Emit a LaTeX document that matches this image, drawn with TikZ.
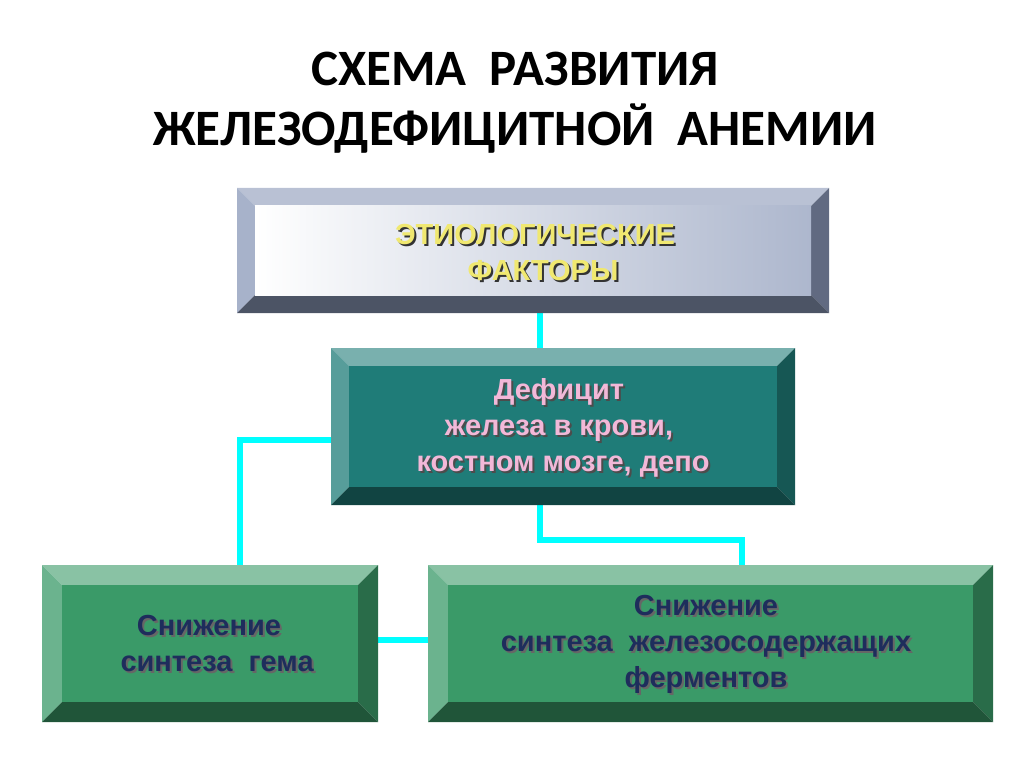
\documentclass[tikz,border=0pt]{standalone}
\usepackage{fontspec}
\setmainfont{Liberation Sans}
\newfontfamily\titlefont{Carlito}
\definecolor{teal1}{HTML}{1F7C78}
\definecolor{green1}{HTML}{3A9A68}
\definecolor{cyanl}{HTML}{00FFFF}
\definecolor{navy}{HTML}{1E2D5C}
\definecolor{pinkt}{HTML}{F2B8D8}
\definecolor{yel}{HTML}{F0E870}
\definecolor{topb}{HTML}{8A98B8}
\newcommand\bevbox[7]{%
 \fill[#6!60!white] (#2,#3) -- (#4,#3) -- ({#4-#7},{#3+#7}) -- ({#2+#7},{#3+#7}) -- cycle;
 \fill[#6!75!white] (#2,#3) -- ({#2+#7},{#3+#7}) -- ({#2+#7},{#5-#7}) -- (#2,#5) -- cycle;
 \fill[#6!70!black] (#4,#3) -- (#4,#5) -- ({#4-#7},{#5-#7}) -- ({#4-#7},{#3+#7}) -- cycle;
 \fill[#6!55!black] (#2,#5) -- (#4,#5) -- ({#4-#7},{#5-#7}) -- ({#2+#7},{#5-#7}) -- cycle;
 \coordinate (#1-nw) at (#2,#3); \coordinate (#1-se) at (#4,#5);
}
\tikzset{conn/.style={cyanl,line width=6pt},
 btxt/.style={font=\bfseries\fontsize{29}{36}\selectfont,align=center}}
\begin{document}
\begin{tikzpicture}[x=1pt,y=-1pt]
\useasboundingbox (0,0) rectangle (1024,767);
\node[font=\titlefont\bfseries\fontsize{51}{60}\selectfont,align=center] (title) at (515,103) {СХЕМА\ \ РАЗВИТИЯ\\ЖЕЛЕЗОДЕФИЦИТНОЙ\ \ АНЕМИИ};
% connectors
\coordinate (c1) at (240,440);
\coordinate (c2) at (540,540);
\coordinate (c3) at (742,540);
\draw[conn] (540,313) -- (540,348);
\draw[conn] (331,440) -- (c1) -- (240,566);
\draw[conn] (540,505) -- (c2) -- (c3) -- (742,566);
\draw[conn] (378,640) -- (428,640);
% top
\bevbox{top}{237}{188}{829}{313}{topb}{18}
\shade[left color=white,right color=topb!70!white] (255,206) rectangle (811,295);
\node[btxt,text=black!80] (ts) at (537,255) {ЭТИОЛОГИЧЕСКИЕ\\\ \ ФАКТОРЫ};
\node[btxt,text=yel] (t) at (535,253) {ЭТИОЛОГИЧЕСКИЕ\\\ \ ФАКТОРЫ};
% middle
\bevbox{mid}{331}{348}{795}{505}{teal1}{18}
\fill[teal1] (349,366) rectangle (777,487);
\node[btxt,text=black!70] (ms) at (561,430) {Дефицит\\железа в крови,\\\ костном мозге, депо};
\node[btxt,text=pinkt] (m) at (559,428) {Дефицит\\железа в крови,\\\ костном мозге, депо};
% bottom
\bevbox{bl}{42}{565}{378}{722}{green1}{20}
\fill[green1] (62,585) rectangle (358,702);
\node[btxt,text=black!60] (ls) at (211,646) {Снижение\\\ \ синтеза\ \ гема};
\node[btxt,text=navy] (l) at (209,644) {Снижение\\\ \ синтеза\ \ гема};
\bevbox{br}{428}{565}{993}{722}{green1}{20}
\fill[green1] (448,585) rectangle (973,702);
\node[btxt,text=black!60] (rs) at (708,646) {Снижение\\синтеза\ \ железосодержащих\\ферментов};
\node[btxt,text=navy] (r) at (706,644) {Снижение\\синтеза\ \ железосодержащих\\ферментов};
\end{tikzpicture}
\end{document}
